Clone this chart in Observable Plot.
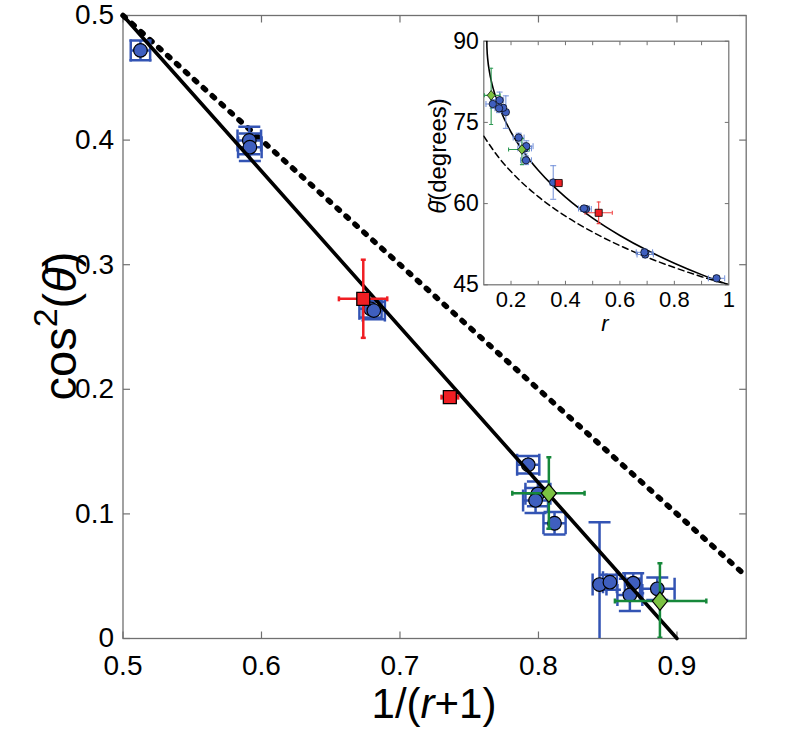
<!DOCTYPE html>
<html><head><meta charset="utf-8">
<script src="https://cdn.jsdelivr.net/npm/d3@7"></script>
<script src="https://cdn.jsdelivr.net/npm/@observablehq/plot@0.6"></script>
<style>
body{margin:0;background:#fff;}
#wrap{position:relative;width:800px;height:732px;}
#wrap svg{position:absolute;left:0;top:0;}
</style></head><body><div id="wrap"></div>
<script>
const FONT = '"Liberation Sans", Arial, Helvetica, sans-serif';

// ---------- main chart data ----------
const xTicks = [0.5, 0.6, 0.7, 0.8, 0.9];
const xTickLabels = ["0.5", "0.6", "0.7", "0.8", "0.9"];
const yTicks = [0, 0.1, 0.2, 0.3, 0.4, 0.5];
const yTickLabels = ["0", "0.1", "0.2", "0.3", "0.4", "0.5"];

// fit line (solid) and reference line (dotted), endpoints
const fitX = [0.5, 0.9];
const fitY = [0.5, 0.0];
const refX = [0.5, 0.95];
const refY = [0.5, 0.05];

// blue circles
const blueX    = [0.5126, 0.5912, 0.5916, 0.6787, 0.6811, 0.7926, 0.7996, 0.7979, 0.8116, 0.8441, 0.8516, 0.8684, 0.8660, 0.8858];
const blueY    = [0.472, 0.3997, 0.3943, 0.2646, 0.2632, 0.1394, 0.1161, 0.1108, 0.0925, 0.0433, 0.0452, 0.0444, 0.0350, 0.0399];
const blueXErr = [0.007, 0.0085, 0.0085, 0.008, 0.008, 0.008, 0.009, 0.009, 0.008, 0.005, 0.005, 0.006, 0.009, 0.0125];
const blueYErr = [0.008, 0.011, 0.011, 0.007, 0.007, 0.007, 0.010, 0.010, 0.009, 0.050, 0.006, 0.008, 0.013, 0.009];

// red squares
const redX   = [0.6735, 0.736];
const redY   = [0.2726, 0.1937];
const redXLo = [0.6559, 0.730];
const redXHi = [0.6908, 0.742];
const redYLo = [0.2413, 0.190];
const redYHi = [0.304, 0.197];

// green diamonds
const greenX   = [0.8075, 0.8877];
const greenY   = [0.1166, 0.030];
const greenXLo = [0.7811, 0.8552];
const greenXHi = [0.8333, 0.9212];
const greenYLo = [0.088, 0.0006];
const greenYHi = [0.1455, 0.0604];

// ---------- inset data ----------
const insetXTicks = [0.2, 0.3, 0.4, 0.5, 0.6, 0.7, 0.8, 0.9];
const insetXLabelTicks = [0.2, 0.4, 0.6, 0.8, 1.0];
const insetXTickLabels = ["0.2", "0.4", "0.6", "0.8", "1"];
const insetYTicks = [45, 60, 75, 90];
const insetYTickLabels = ["45", "60", "75", "90"];

// solid curve (fit) read as points
const solidR = [0.1111, 0.1115, 0.115, 0.12, 0.13, 0.14, 0.15, 0.17, 0.2, 0.25, 0.3, 0.35, 0.4, 0.5, 0.6, 0.7, 0.8, 0.9, 1.0];
const solidT = [90, 88.85, 86.41, 84.58, 82.12, 80.28, 78.75, 76.23, 73.22, 69.30, 66.15, 63.50, 61.20, 57.31, 54.11, 51.37, 48.99, 46.88, 45];
// dashed curve
const dashR = [0.1, 0.15, 0.2, 0.3, 0.4, 0.5, 0.6, 0.7, 0.8, 0.9, 1.0];
const dashT = [72.45, 68.83, 65.91, 61.29, 57.69, 54.74, 52.24, 50.08, 48.19, 46.50, 45];

const iBlueR    = [0.955, 0.693, 0.690, 0.475, 0.468, 0.355, 0.255, 0.250, 0.256, 0.228, 0.181, 0.171, 0.156, 0.158, 0.133];
const iBlueT    = [46.2, 50.6, 51.0, 59.0, 59.1, 63.9, 68.0, 70.2, 70.6, 72.2, 76.9, 77.7, 77.6, 79.1, 78.4];
const iBlueRErr = [0.03, 0.03, 0.03, 0.02, 0.02, 0.012, 0.02, 0.025, 0.025, 0.02, 0.01, 0.01, 0.015, 0.015, 0.025];
const iBlueTErr = [0.5, 0.6, 0.6, 0.5, 0.5, 3.1, 0.8, 1.0, 1.0, 0.8, 3.0, 0.5, 0.8, 1.5, 0.8];

const iRedR    = [0.522, 0.375];
const iRedT    = [58.3, 63.8];
const iRedRErr = [0.05, 0.012];
const iRedTErr = [2.0, 0.4];

const iGreenR   = [0.240, 0.127];
const iGreenT   = [70.0, 80.0];
const iGreenRLo = [0.191, 0.102];
const iGreenRHi = [0.267, 0.160];
const iGreenTLo = [67.2, 74.6];
const iGreenTHi = [72.0, 85.0];

// ---------- colours ----------
const BLUE_FILL = "#3f5fbf", BLUE_ERR = "#3354b4";
const RED = "#f01e23";
const GREEN_FILL = "#7cc242", GREEN_ERR = "#16883a";
const IBLUE_ERR = "#6f8ed8", IGREEN_ERR = "#2f9a55", IRED_ERR = "#f04040";
const AXIS = "#707070";

// ---------- helpers ----------
function seg(x0, y0, x1, y1) {
  return {draw(ctx, size) { const l = Math.sqrt(size / Math.PI); ctx.moveTo(x0 * l, y0 * l); ctx.lineTo(x1 * l, y1 * l); }};
}
const hCap = seg(-1, 0, 1, 0), vCap = seg(0, -1, 0, 1);
const tUp = seg(0, 0, 0, -1), tDown = seg(0, 0, 0, 1), tRight = seg(0, 0, 1, 0), tLeft = seg(0, 0, -1, 0);
const diamondSym = {draw(ctx, size) { const r = Math.sqrt(size / Math.PI); ctx.moveTo(0, -1.15 * r); ctx.lineTo(0.95 * r, 0); ctx.lineTo(0, 1.15 * r); ctx.lineTo(-0.95 * r, 0); ctx.closePath(); }};
const lab = (ticks, labels) => d => labels[ticks.findIndex(t => Math.abs(t - d) < 1e-9)];

function errMarks(rows, color, sw, capR, clip) {
  return [
    Plot.ruleY(rows, {y: "y", x1: "xlo", x2: "xhi", stroke: color, strokeWidth: sw, clip}),
    Plot.ruleX(rows, {x: "x", y1: "ylo", y2: "yhi", stroke: color, strokeWidth: sw, clip}),
    Plot.dot(rows, {x: "xlo", y: "y", symbol: vCap, r: capR, stroke: color, strokeWidth: sw, fill: "none", clip}),
    Plot.dot(rows, {x: "xhi", y: "y", symbol: vCap, r: capR, stroke: color, strokeWidth: sw, fill: "none", clip}),
    Plot.dot(rows, {x: "x", y: "ylo", symbol: hCap, r: capR, stroke: color, strokeWidth: sw, fill: "none", clip}),
    Plot.dot(rows, {x: "x", y: "yhi", symbol: hCap, r: capR, stroke: color, strokeWidth: sw, fill: "none", clip})
  ];
}

// ---------- rows ----------
const blueRows = blueX.map((x, i) => ({x, y: blueY[i], xlo: x - blueXErr[i], xhi: x + blueXErr[i], ylo: blueY[i] - blueYErr[i], yhi: blueY[i] + blueYErr[i]}));
const redRows = redX.map((x, i) => ({x, y: redY[i], xlo: redXLo[i], xhi: redXHi[i], ylo: redYLo[i], yhi: redYHi[i]}));
const greenRows = greenX.map((x, i) => ({x, y: greenY[i], xlo: greenXLo[i], xhi: greenXHi[i], ylo: greenYLo[i], yhi: greenYHi[i]}));
const fitRows = fitX.map((x, i) => ({x, y: fitY[i]}));
const refRows = refX.map((x, i) => ({x, y: refY[i]}));

const main = Plot.plot({
  width: 800, height: 732,
  marginLeft: 122.5, marginRight: 54.3, marginTop: 15, marginBottom: 94,
  x: {domain: [0.5, 0.95]},
  y: {domain: [0, 0.5]},
  style: {fontFamily: FONT, background: "white", overflow: "visible", color: "black"},
  marks: [
    Plot.frame({stroke: AXIS, strokeWidth: 1.3}),
    Plot.axisX({ticks: xTicks, tickFormat: lab(xTicks, xTickLabels), tickSize: 0, tickPadding: 17, fontSize: 28, label: null}),
    Plot.axisY({ticks: yTicks, tickFormat: lab(yTicks, yTickLabels), tickSize: 0, tickPadding: 9, fontSize: 28, label: null}),
    Plot.dot(xTicks, {x: d => d, y: 0, symbol: tUp, r: 7, stroke: AXIS, strokeWidth: 1.2}),
    Plot.dot(xTicks, {x: d => d, y: 0.5, symbol: tDown, r: 7, stroke: AXIS, strokeWidth: 1.2}),
    Plot.dot(yTicks, {x: 0.5, y: d => d, symbol: tRight, r: 7, stroke: AXIS, strokeWidth: 1.2}),
    Plot.dot(yTicks, {x: 0.95, y: d => d, symbol: tLeft, r: 7, stroke: AXIS, strokeWidth: 1.2}),
    Plot.line(refRows, {x: "x", y: "y", stroke: "black", strokeWidth: 5.5, strokeDasharray: "3,9"}),
    ...errMarks(blueRows, BLUE_ERR, 2.5, 11, true),
    Plot.dot(blueRows, {x: "x", y: "y", r: 6.8, fill: BLUE_FILL, stroke: "black", strokeWidth: 1.2}),
    Plot.line(fitRows, {x: "x", y: "y", stroke: "black", strokeWidth: 3.6}),
    ...errMarks(greenRows, GREEN_ERR, 2.5, 2.5, true),
    Plot.dot(greenRows, {x: "x", y: "y", r: 8, symbol: diamondSym, fill: GREEN_FILL, stroke: "black", strokeWidth: 1.2}),
    ...errMarks(redRows, RED, 2.5, 2.5, true),
    Plot.dot(redRows, {x: "x", y: "y", r: 7.3, symbol: "square", fill: RED, stroke: "black", strokeWidth: 1.3})
  ]
});
document.getElementById("wrap").appendChild(main);

// axis titles for the main chart
const ms = d3.select(main);
const yl = ms.append("text")
  .attr("transform", "translate(76,326) rotate(-90)")
  .attr("text-anchor", "middle").attr("font-size", 47).attr("font-family", FONT).attr("fill", "black");
yl.append("tspan").text("cos");
yl.append("tspan").attr("dy", -19).attr("font-size", 34).text("2");
yl.append("tspan").attr("dy", 19).text("(");
yl.append("tspan").attr("font-style", "italic").text("\u03B8\u0304");
yl.append("tspan").text(")");

const xl = ms.append("text")
  .attr("x", 434).attr("y", 718)
  .attr("text-anchor", "middle").attr("font-size", 42).attr("font-family", FONT).attr("fill", "black");
xl.append("tspan").text("1/(");
xl.append("tspan").attr("font-style", "italic").text("r");
xl.append("tspan").text("+1)");

// ---------- inset ----------
const solidRows = solidR.map((r, i) => ({x: r, y: solidT[i]}));
const dashRows = dashR.map((r, i) => ({x: r, y: dashT[i]}));
const iBlueRows = iBlueR.map((x, i) => ({x, y: iBlueT[i], xlo: x - iBlueRErr[i], xhi: x + iBlueRErr[i], ylo: iBlueT[i] - iBlueTErr[i], yhi: iBlueT[i] + iBlueTErr[i]}));
const iRedRows = iRedR.map((x, i) => ({x, y: iRedT[i], xlo: x - iRedRErr[i], xhi: x + iRedRErr[i], ylo: iRedT[i] - iRedTErr[i], yhi: iRedT[i] + iRedTErr[i]}));
const iGreenRows = iGreenR.map((x, i) => ({x, y: iGreenT[i], xlo: iGreenRLo[i], xhi: iGreenRHi[i], ylo: iGreenTLo[i], yhi: iGreenTHi[i]}));

const inset = Plot.plot({
  width: 340.3, height: 314.3,
  marginLeft: 83.3, marginRight: 12, marginTop: 20.7, marginBottom: 50,
  x: {domain: [0.1, 1]},
  y: {domain: [45, 90]},
  style: {fontFamily: FONT, background: "transparent", overflow: "visible", color: "black"},
  marks: [
    Plot.frame({fill: "white", stroke: AXIS, strokeWidth: 1.2}),
    Plot.axisX({ticks: insetXLabelTicks, tickFormat: lab(insetXLabelTicks, insetXTickLabels), tickSize: 0, tickPadding: 7, fontSize: 22, label: null}),
    Plot.axisY({ticks: insetYTicks, tickFormat: lab(insetYTicks, insetYTickLabels), tickSize: 0, tickPadding: 5, fontSize: 23, label: null}),
    Plot.dot(insetXTicks, {x: d => d, y: 45, symbol: tUp, r: 4, stroke: AXIS, strokeWidth: 1}),
    Plot.dot(insetXTicks, {x: d => d, y: 90, symbol: tDown, r: 4, stroke: AXIS, strokeWidth: 1}),
    Plot.dot(insetYTicks, {x: 0.1, y: d => d, symbol: tRight, r: 4, stroke: AXIS, strokeWidth: 1}),
    Plot.dot(insetYTicks, {x: 1, y: d => d, symbol: tLeft, r: 4, stroke: AXIS, strokeWidth: 1}),
    Plot.line(dashRows, {x: "x", y: "y", curve: "monotone-x", stroke: "black", strokeWidth: 1.5, strokeDasharray: "6,4", clip: true}),
    Plot.line(solidRows, {x: "x", y: "y", curve: "monotone-x", stroke: "black", strokeWidth: 1.6, clip: true}),
    ...errMarks(iBlueRows, IBLUE_ERR, 1, 3, true),
    ...errMarks(iGreenRows, IGREEN_ERR, 1.1, 2, true),
    ...errMarks(iRedRows, IRED_ERR, 1.1, 2, true),
    Plot.dot(iBlueRows, {x: "x", y: "y", r: 3.7, fill: BLUE_FILL, stroke: "black", strokeWidth: 0.7}),
    Plot.dot(iRedRows, {x: "x", y: "y", r: 4, symbol: "square", fill: RED, stroke: "black", strokeWidth: 0.8}),
    Plot.dot(iGreenRows, {x: "x", y: "y", r: 4.2, symbol: diamondSym, fill: GREEN_FILL, stroke: "black", strokeWidth: 0.7})
  ]
});
inset.style.left = "400px";
inset.style.top = "20px";
document.getElementById("wrap").appendChild(inset);

const is = d3.select(inset);
const iyl = is.append("text")
  .attr("transform", "translate(46,136) rotate(-90)")
  .attr("text-anchor", "middle").attr("font-size", 24).attr("font-family", FONT).attr("fill", "black");
iyl.append("tspan").attr("font-style", "italic").text("\u03B8\u0304");
iyl.append("tspan").text("(degrees)");

is.append("text")
  .attr("x", 205).attr("y", 311)
  .attr("text-anchor", "middle").attr("font-size", 22).attr("font-style", "italic").attr("font-family", FONT).attr("fill", "black")
  .text("r");
</script>
</body></html>
